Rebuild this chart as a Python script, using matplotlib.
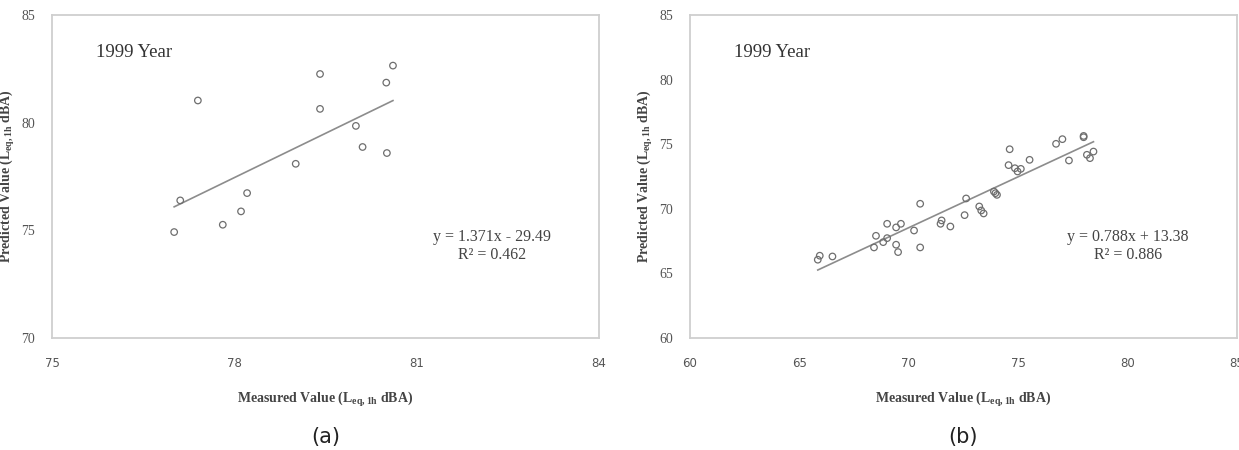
import numpy as np
import matplotlib
matplotlib.use("Agg")
import matplotlib.pyplot as plt

# panel (a) : 1999, measured vs predicted
mesure_a = [77.01, 77.11, 77.40, 77.81, 78.11, 78.21, 79.01, 79.41, 79.41, 80.00, 80.11, 80.51, 80.50, 80.61]
predit_a = [74.92, 76.39, 81.03, 75.26, 75.88, 76.73, 78.09, 82.26, 80.64, 79.85, 78.87, 78.59, 81.86, 82.65]
pente_a, origine_a = 1.371, -29.49
r2_a = 0.462

# panel (b)
mesure_b = [65.84, 65.93, 66.51, 68.41, 68.50, 68.83, 69.01, 69.01, 69.42, 69.64, 69.42, 69.51, 70.24, 70.52,
            70.52, 71.45, 71.50, 71.90, 72.55, 72.62, 73.22, 73.31, 73.42, 73.89, 73.96, 74.03, 74.56, 74.61,
            74.85, 74.97, 75.12, 75.52, 76.73, 77.02, 77.32, 77.99, 77.99, 78.14, 78.28, 78.44]
predit_b = [66.06, 66.37, 66.31, 67.01, 67.91, 67.42, 67.73, 68.84, 68.56, 68.84, 67.22, 66.65, 68.32, 70.39,
            67.01, 68.84, 69.10, 68.63, 69.51, 70.80, 70.18, 69.87, 69.64, 71.34, 71.21, 71.08, 73.38, 74.61,
            73.14, 72.89, 73.09, 73.79, 75.03, 75.39, 73.74, 75.64, 75.54, 74.18, 73.92, 74.43]
pente_b, origine_b = 0.788, 13.38
r2_b = 0.886

ticks_x_a = [75, 78, 81, 84]
ticks_y_a = [70, 75, 80, 85]
ticks_x_b = [60, 65, 70, 75, 80, 85]
ticks_y_b = [60, 65, 70, 75, 80, 85]

serif = "Liberation Serif"

fig = plt.figure(figsize=(12.39, 4.5), dpi=100)
ax_a = fig.add_axes([52/1239, 112/450, 547/1239, 323/450])
ax_b = fig.add_axes([690/1239, 112/450, 547/1239, 323/450])


def tracer(ax, x, y, pente, origine, r2, tx, ty, eq, lettre):
    ax.scatter(x, y, s=22, facecolors="none", edgecolors="#6e6e6e", linewidths=0.9, zorder=3)
    xl = np.array([min(x), max(x)])
    ax.plot(xl, pente * xl + origine, color="#8c8c8c", lw=1.2, zorder=2)
    ax.set_xlim(tx[0], tx[-1])
    ax.set_ylim(ty[0], ty[-1])
    ax.set_xticks(tx)
    ax.set_yticks(ty)
    ax.tick_params(length=0, pad=14)
    ax.tick_params(axis="y", pad=12)
    for lab in ax.get_xticklabels():
        lab.set_fontfamily("DejaVu Sans")
        lab.set_fontsize(8.5)
        lab.set_color("#555555")
    for lab in ax.get_yticklabels():
        lab.set_fontfamily(serif)
        lab.set_fontsize(10)
        lab.set_color("#555555")
    for sp in ax.spines.values():
        sp.set_color("#cfcfcf")
        sp.set_linewidth(1.3)
    ax.set_xlabel(r"Measured Value (L$_{\mathregular{eq,1h}}$ dBA)", fontfamily=serif,
                  fontweight="bold", fontsize=10, color="#444444", labelpad=14)
    ax.set_ylabel(r"Predicted Value (L$_{\mathregular{eq,1h}}$ dBA)", fontfamily=serif,
                  fontweight="bold", fontsize=10, color="#444444", labelpad=3)
    ax.text(0.08, 0.885, "1999 Year", transform=ax.transAxes, fontfamily=serif,
            fontsize=13.5, color="#333333", va="center")
    signe = "+" if origine >= 0 else "-"
    ax.text(eq, 0.285, "y = %.3fx %s %.2f\nR² = %.3f" % (pente, signe, abs(origine), r2),
            transform=ax.transAxes, fontfamily=serif, fontsize=11.5, color="#444444",
            ha="center", va="center", linespacing=1.15)
    ax.text(0.5, -0.305, lettre, transform=ax.transAxes, fontfamily="DejaVu Sans",
            fontsize=15, color="#222222", ha="center", va="center")


tracer(ax_a, mesure_a, predit_a, pente_a, origine_a, r2_a, ticks_x_a, ticks_y_a, 0.805, "(a)")
tracer(ax_b, mesure_b, predit_b, pente_b, origine_b, r2_b, ticks_x_b, ticks_y_b, 0.80, "(b)")

fig.savefig("out.png", dpi=100)
